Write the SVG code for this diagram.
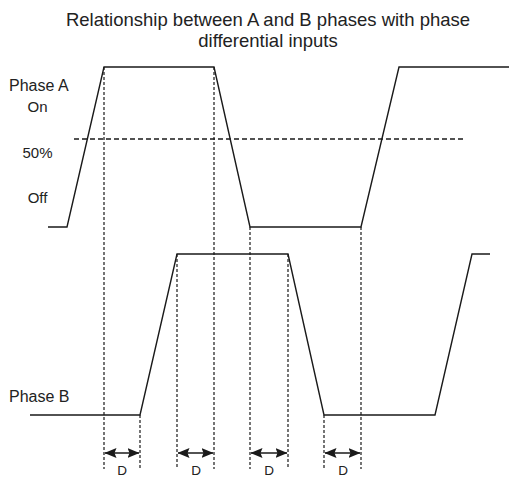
<svg xmlns="http://www.w3.org/2000/svg" width="509" height="477" viewBox="0 0 509 477">
<style>
.sig{fill:none;stroke:#1a1a1a;stroke-width:1.4;stroke-linejoin:miter}
.dash{fill:none;stroke:#1a1a1a;stroke-width:1.2;stroke-dasharray:3 2}
.hdash{fill:none;stroke:#1a1a1a;stroke-width:1.3;stroke-dasharray:5 3}
.dim{fill:none;stroke:#1a1a1a;stroke-width:1.5}
text{font-family:"Liberation Sans",Arial,sans-serif;fill:#222}
.title{font-size:18.5px;text-anchor:middle}
.lbl{font-size:15px}
.big{font-size:16px}
.ctr{text-anchor:middle}
.d{font-size:13.5px;text-anchor:middle}
</style>
<defs>
<marker id="ah" viewBox="0 0 12 10" refX="11.5" refY="5" markerWidth="12" markerHeight="10" markerUnits="userSpaceOnUse" orient="auto-start-reverse">
<path d="M0,0 L12,5 L0,10 L2,5 z" fill="#1a1a1a"/>
</marker>
</defs>
<g id="title">
<text class="title" x="268" y="26">Relationship between A and B phases with phase</text>
<text class="title" x="268" y="47">differential inputs</text>
</g>
<g id="labels">
<text class="big" x="9" y="91">Phase A</text>
<text class="lbl ctr" x="37.5" y="112">On</text>
<text class="lbl ctr" x="37.5" y="158">50%</text>
<text class="lbl ctr" x="37.5" y="203">Off</text>
<text class="big" x="9" y="402">Phase B</text>
</g>
<g id="phaseA">
<polyline class="sig" points="48,227 67,227 104,67 214,67 250,227 361,227 399,67 509,67"/>
</g>
<g id="phaseB">
<polyline class="sig" points="30,415 140,415 177,254 288,254 324,415 435,415 472,254 490,254"/>
</g>
<g id="connectors">
<line class="hdash" x1="74" y1="139" x2="466" y2="139"/>
<line class="dash" x1="104" y1="67" x2="104" y2="469"/>
<line class="dash" x1="214" y1="67" x2="214" y2="469"/>
<line class="dash" x1="250" y1="227" x2="250" y2="469"/>
<line class="dash" x1="361" y1="227" x2="361" y2="469"/>
<line class="dash" x1="177" y1="254" x2="177" y2="469"/>
<line class="dash" x1="288" y1="254" x2="288" y2="469"/>
<line class="dash" x1="140" y1="415" x2="140" y2="469"/>
<line class="dash" x1="324" y1="415" x2="324" y2="469"/>
<line class="dim" x1="105" y1="453" x2="139" y2="453" marker-start="url(#ah)" marker-end="url(#ah)"/>
<line class="dim" x1="178" y1="453" x2="213" y2="453" marker-start="url(#ah)" marker-end="url(#ah)"/>
<line class="dim" x1="251" y1="453" x2="287" y2="453" marker-start="url(#ah)" marker-end="url(#ah)"/>
<line class="dim" x1="325" y1="453" x2="360" y2="453" marker-start="url(#ah)" marker-end="url(#ah)"/>
</g>
<g id="dlabels">
<text class="d" x="122" y="475">D</text>
<text class="d" x="196" y="475">D</text>
<text class="d" x="269" y="475">D</text>
<text class="d" x="343" y="475">D</text>
</g>
</svg>
